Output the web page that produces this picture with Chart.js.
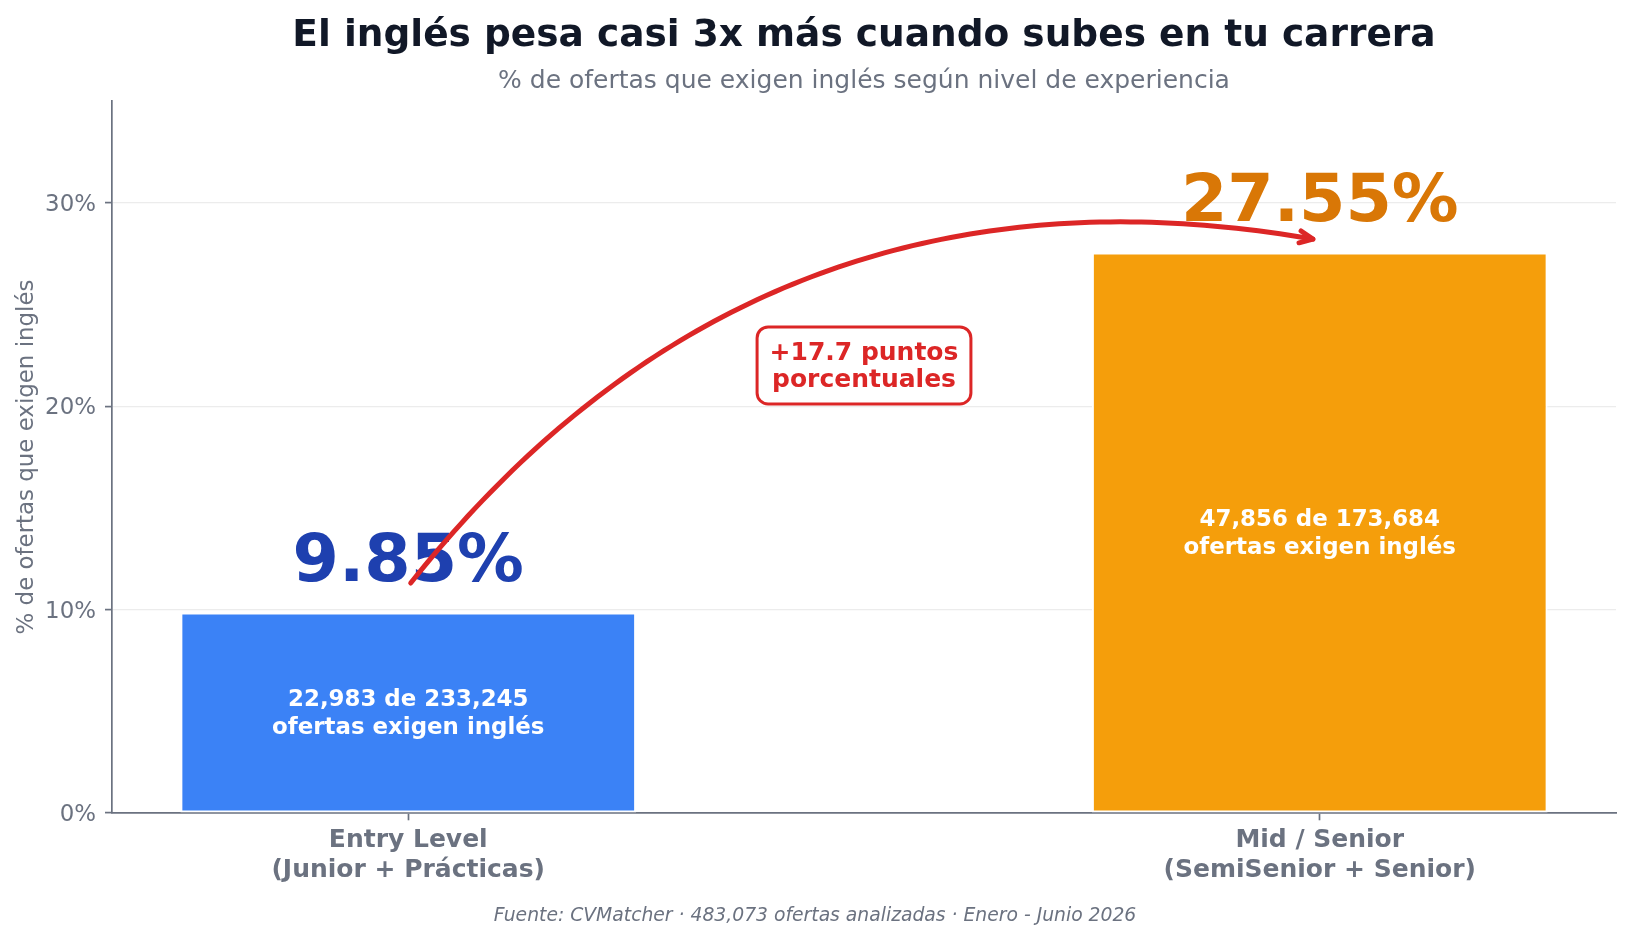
<!DOCTYPE html>
<html lang="es">
<head>
<meta charset="UTF-8" />
<title>Inglés según nivel de experiencia</title>
<script src="https://cdn.jsdelivr.net/npm/chart.js"></script>
<style>
  html, body { margin: 0; padding: 0; background: #fff; }
  #wrap { width: 1630px; height: 939px; position: relative; }
</style>
</head>
<body>
<div id="wrap"><canvas id="chart"></canvas></div>
<script>
  const categories = [
    ["Entry Level", "(Junior + Prácticas)"],
    ["Mid / Senior", "(SemiSenior + Senior)"]
  ];
  const pctValues = [9.85, 27.55];
  const withEnglish = [22983, 47856];
  const totalOffers = [233245, 173684];
  const yTicks = [0, 10, 20, 30];
  const barColors = ["#3b82f6", "#f59e0b"];
  const labelColors = ["#1e40af", "#d97706"];

  const titleText = "El inglés pesa casi 3x más cuando subes en tu carrera";
  const subtitleText = "% de ofertas que exigen inglés según nivel de experiencia";
  const yTitle = "% de ofertas que exigen inglés";
  const sourceText = "Fuente: CVMatcher · 483,073 ofertas analizadas · Enero - Junio 2026";

  const FONT = "'DejaVu Sans', sans-serif";
  const GRAY = "#6b7280";
  const RED = "#dc2626";
  const fmt = n => n.toLocaleString("en-US");

  // text, arrow and box drawn on top of the bars
  const annotations = {
    id: "annotations",
    beforeDraw(chart) {
      const ctx = chart.ctx;
      ctx.save();
      ctx.fillStyle = "#fff";
      ctx.fillRect(0, 0, chart.width, chart.height);
      ctx.restore();
    },
    afterDatasetsDraw(chart) {
      const { ctx, scales: { x, y } } = chart;
      ctx.save();
      ctx.textAlign = "center";
      ctx.textBaseline = "alphabetic";

      pctValues.forEach((v, i) => {
        const px = x.getPixelForValue(i);
        ctx.font = `bold 66.7px ${FONT}`;
        ctx.fillStyle = labelColors[i];
        ctx.fillText(v.toFixed(2) + "%", px, y.getPixelForValue(v + 0.6) - 19);

        const cy = y.getPixelForValue(v / 2);
        ctx.font = `bold 22.9px ${FONT}`;
        ctx.fillStyle = "#fff";
        ctx.fillText(`${fmt(withEnglish[i])} de ${fmt(totalOffers[i])}`, px, cy - 6.5);
        ctx.fillText("ofertas exigen inglés", px, cy + 21);
      });

      // curved arrow (arc3, rad -0.3)
      const sx = x.getPixelForValue(0), sy = y.getPixelForValue(pctValues[0] + 1.3);
      const ex = x.getPixelForValue(1), ey = y.getPixelForValue(pctValues[1] + 0.6);
      const rad = -0.3;
      const mx = (sx + ex) / 2, my = (sy + ey) / 2;
      const cx = mx + rad * (sy - ey), cyc = my + rad * (ex - sx);
      const q = t => [
        (1 - t) * (1 - t) * sx + 2 * t * (1 - t) * cx + t * t * ex,
        (1 - t) * (1 - t) * sy + 2 * t * (1 - t) * cyc + t * t * ey
      ];
      const t0 = 4 / (2 * Math.hypot(cx - sx, cyc - sy));
      const t1 = 1 - 7 / (2 * Math.hypot(ex - cx, ey - cyc));
      ctx.strokeStyle = RED;
      ctx.lineWidth = 5;
      ctx.lineCap = "round";
      ctx.lineJoin = "round";
      ctx.beginPath();
      for (let k = 0; k <= 100; k++) {
        const p = q(t0 + (t1 - t0) * k / 100);
        if (k === 0) ctx.moveTo(p[0], p[1]); else ctx.lineTo(p[0], p[1]);
      }
      ctx.stroke();
      const tip = q(t1);
      let dx = 2 * (1 - t1) * (cx - sx) + 2 * t1 * (ex - cx);
      let dy = 2 * (1 - t1) * (cyc - sy) + 2 * t1 * (ey - cyc);
      const len = Math.hypot(dx, dy);
      dx /= len; dy /= len;
      const hl = 13, hw = 6;
      ctx.beginPath();
      ctx.moveTo(tip[0] - dx * hl - dy * hw, tip[1] - dy * hl + dx * hw);
      ctx.lineTo(tip[0], tip[1]);
      ctx.lineTo(tip[0] - dx * hl + dy * hw, tip[1] - dy * hl - dx * hw);
      ctx.stroke();

      // difference box
      const diff = pctValues[1] - pctValues[0];
      const lines = [`+${diff.toFixed(1)} puntos`, "porcentuales"];
      const bx = x.getPixelForValue(0.5), by = y.getPixelForValue(22);
      ctx.font = `bold 25px ${FONT}`;
      const w = Math.max(...lines.map(s => ctx.measureText(s).width)) + 25;
      const h = 77;
      ctx.beginPath();
      ctx.roundRect(bx - w / 2, by - h / 2, w, h, 11);
      ctx.fillStyle = "#fff";
      ctx.fill();
      ctx.lineWidth = 3;
      ctx.strokeStyle = RED;
      ctx.stroke();
      ctx.fillStyle = RED;
      ctx.fillText(lines[0], bx, by - 5.5);
      ctx.fillText(lines[1], bx, by + 21.5);
      ctx.restore();
    },
    afterDraw(chart) {
      const { ctx, chartArea } = chart;
      const midX = (chartArea.left + chartArea.right) / 2;
      ctx.save();
      ctx.textAlign = "center";
      ctx.textBaseline = "alphabetic";
      ctx.fillStyle = "#111827";
      ctx.font = `bold 37.5px ${FONT}`;
      ctx.fillText(titleText, midX, 46);
      ctx.fillStyle = GRAY;
      ctx.font = `25px ${FONT}`;
      ctx.fillText(subtitleText, midX, 88);
      ctx.font = `italic 18.75px ${FONT}`;
      ctx.fillText(sourceText, chart.width / 2, 921);

      ctx.translate(27, (chartArea.top + chartArea.bottom) / 2);
      ctx.rotate(-Math.PI / 2);
      ctx.textBaseline = "middle";
      ctx.font = `22.9px ${FONT}`;
      ctx.fillText(yTitle, 0, 0);
      ctx.restore();
    }
  };

  new Chart(document.getElementById("chart"), {
    type: "bar",
    data: {
      datasets: [{
        data: pctValues.map((v, i) => ({ x: i, y: v })),
        backgroundColor: barColors,
        borderColor: "#ffffff",
        borderWidth: 2,
        borderSkipped: false,
        categoryPercentage: 1,
        barPercentage: 0.5
      }]
    },
    options: {
      responsive: true,
      maintainAspectRatio: false,
      animation: false,
      devicePixelRatio: 1,
      layout: { padding: { top: 101, right: 14, left: 0, bottom: 0 } },
      plugins: {
        legend: { display: false },
        tooltip: { enabled: false },
        title: { display: false }
      },
      scales: {
        x: {
          type: "linear",
          offset: false,
          min: -0.325,
          max: 1.325,
          afterBuildTicks: s => { s.ticks = categories.map((_, i) => ({ value: i })); },
          afterFit: s => { s.height = 126; },
          ticks: {
            autoSkip: false,
            maxRotation: 0,
            minRotation: 0,
            padding: 5.3,
            color: GRAY,
            font: { family: FONT, size: 25, weight: "bold", lineHeight: 1.2 },
            callback: v => categories[v]
          },
          grid: { offset: false, drawOnChartArea: false, drawTicks: true, tickLength: 7.3, tickColor: GRAY, tickWidth: 1.7 },
          border: { color: GRAY, width: 1.7 }
        },
        y: {
          min: 0,
          max: 35,
          afterBuildTicks: s => { s.ticks = yTicks.map(v => ({ value: v })); },
          afterFit: s => { s.width = 112; },
          ticks: {
            padding: 9,
            labelOffset: 2,
            color: GRAY,
            font: { family: FONT, size: 22.9 },
            callback: v => v + "%"
          },
          grid: { color: "#ececec", lineWidth: 1.2, tickLength: 7, tickColor: GRAY, tickWidth: 1.7 },
          border: { color: GRAY, width: 1.7 }
        }
      }
    },
    plugins: [annotations]
  });
</script>
</body>
</html>
